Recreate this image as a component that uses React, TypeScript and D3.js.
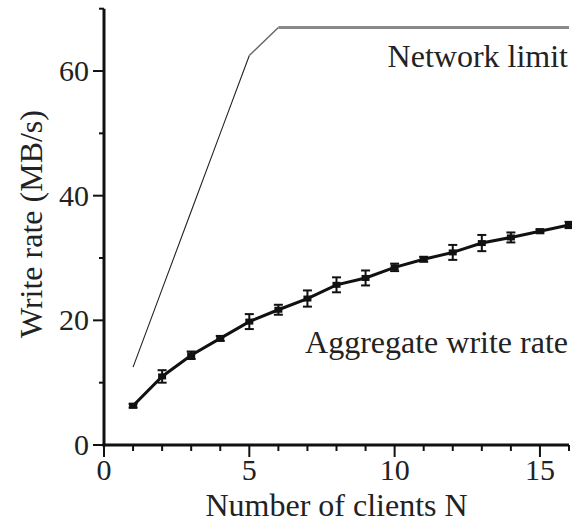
import React, { useEffect, useRef } from 'react'
import * as d3 from 'd3'

// Number of clients
const clients = [1, 2, 3, 4, 5, 6, 7, 8, 9, 10, 11, 12, 13, 14, 15, 16]
// Aggregate write rate (MB/s) and error bar half-widths
const writeRate = [6.3, 11.0, 14.4, 17.1, 19.8, 21.7, 23.5, 25.7, 26.8, 28.5, 29.8, 30.9, 32.4, 33.3, 34.3, 35.3]
const writeErr = [0.3, 1.0, 0.6, 0.4, 1.2, 0.8, 1.3, 1.2, 1.2, 0.6, 0.4, 1.2, 1.3, 0.8, 0.3, 0.5]
// Network limit (MB/s)
const networkLimit = [12.5, 25, 37.5, 50, 62.5, 67, 67, 67, 67, 67, 67, 67, 67, 67, 67, 67]

const xTicks = [0, 5, 10, 15]
const yTicks = [0, 20, 40, 60]

const W = 572
const H = 523
const FONT = '"Liberation Serif", "Times New Roman", serif'

const App: React.FC = () => {
  const ref = useRef<SVGSVGElement | null>(null)

  useEffect(() => {
    if (!ref.current) return
    const svg = d3.select(ref.current)
    svg.selectAll('*').remove()

    const x = d3.scaleLinear().domain([0, 16]).range([104, 569])
    const y = d3.scaleLinear().domain([0, 70]).range([445, 8.7])
    const ink = '#111'

    // network limit line: thin rising part, thick grey cap
    const lim = clients.map((n, i) => ({ n, v: networkLimit[i] }))
    const capVal = d3.max(networkLimit) as number
    const firstCap = lim.findIndex(d => d.v === capVal)
    const line = d3.line<{ n: number; v: number }>().x(d => x(d.n)).y(d => y(d.v))

    svg.append('path')
      .attr('d', line(lim.slice(0, firstCap)) || '')
      .attr('fill', 'none').attr('stroke', '#222').attr('stroke-width', 1.1)
    svg.append('path')
      .attr('d', line(lim.slice(firstCap - 1, firstCap + 1)) || '')
      .attr('fill', 'none').attr('stroke', '#666').attr('stroke-width', 1.4)
    svg.append('path')
      .attr('d', line(lim.slice(firstCap)) || '')
      .attr('fill', 'none').attr('stroke', '#8a8a8a').attr('stroke-width', 3)

    // aggregate write rate
    const agg = clients.map((n, i) => ({ n, v: writeRate[i], e: writeErr[i] }))
    svg.append('path')
      .attr('d', line(agg) || '')
      .attr('fill', 'none').attr('stroke', ink).attr('stroke-width', 3)

    const eb = svg.append('g').attr('stroke', ink).attr('stroke-width', 2)
    agg.forEach(d => {
      const cx = x(d.n)
      eb.append('line').attr('x1', cx).attr('x2', cx).attr('y1', y(d.v - d.e)).attr('y2', y(d.v + d.e))
      eb.append('line').attr('x1', cx - 4.5).attr('x2', cx + 4.5).attr('y1', y(d.v - d.e)).attr('y2', y(d.v - d.e))
      eb.append('line').attr('x1', cx - 4.5).attr('x2', cx + 4.5).attr('y1', y(d.v + d.e)).attr('y2', y(d.v + d.e))
    })
    svg.append('g').selectAll('rect').data(agg).enter().append('rect')
      .attr('x', d => x(d.n) - 4).attr('y', d => y(d.v) - 3)
      .attr('width', 8).attr('height', 6).attr('fill', ink)

    // axes
    const axes = svg.append('g').attr('stroke', ink)
    axes.append('line').attr('x1', x(0)).attr('x2', x(0)).attr('y1', y(70)).attr('y2', y(0) + 1.5).attr('stroke-width', 3)
    axes.append('line').attr('x1', x(0) - 1.5).attr('x2', x(16)).attr('y1', y(0)).attr('y2', y(0)).attr('stroke-width', 3)

    d3.range(0, 17).forEach(v => {
      const major = v % 5 === 0
      axes.append('line').attr('x1', x(v)).attr('x2', x(v))
        .attr('y1', y(0)).attr('y2', y(0) + (major ? 12 : 6)).attr('stroke-width', 2)
    })
    d3.range(0, 71, 10).forEach(v => {
      const major = v % 20 === 0
      axes.append('line').attr('y1', y(v)).attr('y2', y(v))
        .attr('x1', x(0)).attr('x2', x(0) - (major ? 11 : 5)).attr('stroke-width', 2)
    })

    const txt = svg.append('g').attr('font-family', FONT).attr('fill', '#222').attr('font-size', 30)
    xTicks.forEach(v => {
      txt.append('text').attr('x', x(v)).attr('y', 480).attr('text-anchor', 'middle').text(v)
    })
    yTicks.forEach(v => {
      txt.append('text').attr('x', 89).attr('y', y(v) + 10).attr('text-anchor', 'end').text(v)
    })

    txt.append('text').attr('x', (x(0) + x(16)) / 2).attr('y', 516).attr('text-anchor', 'middle')
      .attr('font-size', 32).text('Number of clients N')
    txt.append('text').attr('transform', `translate(42,${224}) rotate(-90)`).attr('text-anchor', 'middle')
      .attr('font-size', 32).text('Write rate (MB/s)')
    txt.append('text').attr('x', 568).attr('y', 67).attr('text-anchor', 'end')
      .attr('font-size', 32).text('Network limit')
    txt.append('text').attr('x', 568).attr('y', 353).attr('text-anchor', 'end')
      .attr('font-size', 32).text('Aggregate write rate')
  }, [])

  return (
    <svg ref={ref} width={W} height={H}
      style={{ position: 'absolute', left: 0, top: 0, background: '#fff' }} />
  )
}

export default App
